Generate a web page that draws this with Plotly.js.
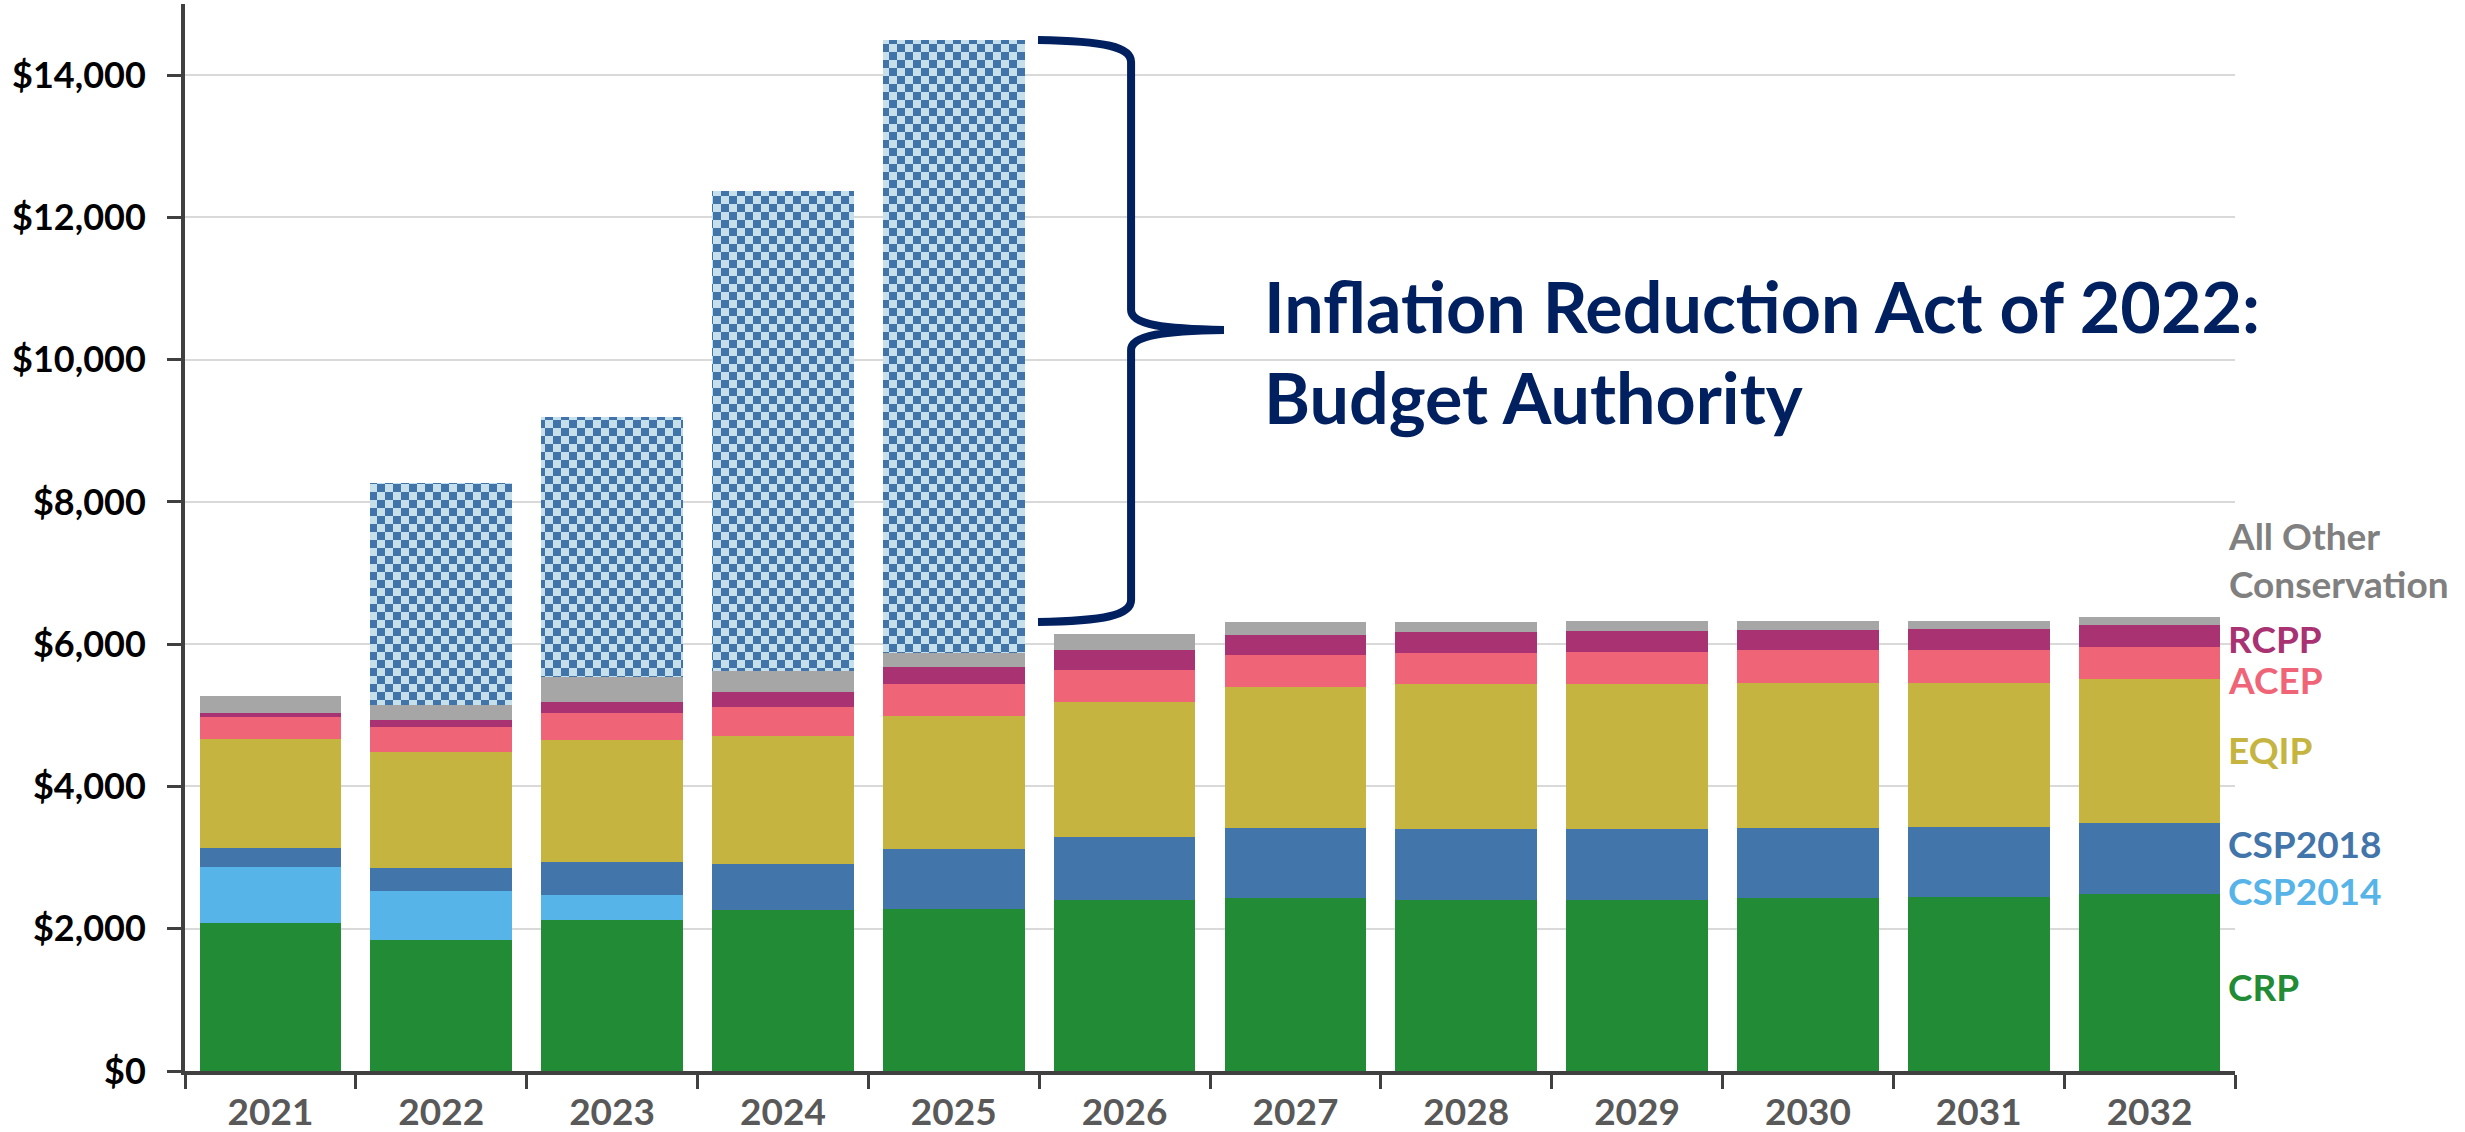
<!DOCTYPE html>
<html>
<head>
<meta charset="utf-8">
<script src="https://cdn.plot.ly/plotly-3.0.1.min.js"></script>
<style>
html,body{margin:0;padding:0;background:#ffffff;}
#chart{width:2465px;height:1132px;}
</style>
</head>
<body>
<div id="chart"></div>
<script>
// ---- data ($ millions) ----
const years = ['2021','2022','2023','2024','2025','2026','2027','2028','2029','2030','2031','2032'];
const crp     = [2075, 1836, 2128, 2262, 2276, 2405, 2435, 2408, 2408, 2436, 2440, 2495];
const csp2014 = [ 795,  698,  352,    0,    0,    0,    0,    0,    0,    0,    0,    0];
const csp2018 = [ 265,  326,  464,  642,  839,  888,  977,  995,  995,  986,  990,  996];
const eqip    = [1530, 1630, 1712, 1804, 1871, 1892, 1992, 2031, 2034, 2035, 2030, 2020];
const acep    = [ 310,  346,  374,  410,  452,  451,  450,  449,  451,  455,  453,  453];
const rcpp    = [  60,  104,  162,  217,  248,  280,  282,  288,  295,  287,  294,  299];
const other   = [ 235,  212,  346,  286,  197,  225,  174,  141,  137,  125,  124,  125];
const ira     = [   0, 3118, 3662, 6753, 8609,    0,    0,    0,    0,    0,    0,    0];

const seriesNames  = ['CRP','CSP2014','CSP2018','EQIP','ACEP','RCPP','All Other Conservation','Inflation Reduction Act of 2022'];
const seriesValues = [crp, csp2014, csp2018, eqip, acep, rcpp, other, ira];
const seriesColors = ['#228B35','#56B4E9','#4275AA','#C6B441','#EF6477','#A83272','#A6A6A6','#C5E0EA'];
const labelColors  = ['#228B35','#56B4E9','#4275AA','#C6B441','#EF6477','#A83272','#808080'];
const yTickVals  = [0, 2000, 4000, 6000, 8000, 10000, 12000, 14000];
const yTickText  = ['$0','$2,000','$4,000','$6,000','$8,000','$10,000','$12,000','$14,000'];

// ---- layout geometry ----
const W = 2465, H = 1132;
const M = {l:185, r:230, t:4, b:61};
const PW = W - M.l - M.r, PH = H - M.t - M.b;
const px = x => ((x - M.l) / PW).toFixed(4);
const py = y => ((H - M.b - y) / PH).toFixed(4);
const FONT = "Lato, 'Open Sans', sans-serif";

const traces = seriesNames.map((name, i) => {
  const t = {
    type: 'bar',
    name: name,
    x: years,
    y: seriesValues[i],
    marker: {color: seriesColors[i], line: {width: 0}},
    hoverinfo: 'x+y+name'
  };
  if (i === seriesNames.length - 1) {
    t.marker.pattern = {shape: '+', fgcolor: '#4175AA', bgcolor: '#C5E0EA', size: 16, solidity: 0.5, fillmode: 'replace'};
  }
  return t;
});

const bracePath =
  `M ${px(1038)},${py(40)} C ${px(1105)},${py(41)} ${px(1131)},${py(47)} ${px(1131)},${py(62)} ` +
  `L ${px(1131)},${py(310)} C ${px(1131)},${py(325)} ${px(1165)},${py(329)} ${px(1224)},${py(330)} ` +
  `C ${px(1165)},${py(331)} ${px(1131)},${py(335)} ${px(1131)},${py(350)} ` +
  `L ${px(1131)},${py(600)} C ${px(1131)},${py(615)} ${px(1105)},${py(621)} ${px(1038)},${py(622)}`;

const sideLabel = (text, yv, color) => ({
  xref: 'paper', yref: 'y', x: 0.9956, y: yv, xanchor: 'left', yanchor: 'middle',
  text: text, showarrow: false, align: 'left',
  font: {family: FONT, size: 37, color: color, weight: 'bold'}
});

const layout = {
  width: W, height: H,
  margin: M,
  paper_bgcolor: '#ffffff', plot_bgcolor: '#ffffff',
  barmode: 'stack', bargap: 0.17,
  showlegend: false,
  font: {family: FONT, color: '#000000'},
  xaxis: {
    type: 'category',
    showline: true, linecolor: '#404040', linewidth: 4,
    ticks: 'outside', tickson: 'boundaries', ticklen: 14, tickwidth: 3, tickcolor: '#404040',
    tickfont: {family: FONT, size: 37, color: '#595959', weight: 'bold'},
    ticklabelstandoff: 6,
    showgrid: false, zeroline: false, fixedrange: true
  },
  yaxis: {
    range: [0, 15000],
    tickvals: yTickVals,
    ticktext: yTickText,
    showline: true, linecolor: '#404040', linewidth: 4,
    ticks: 'outside', ticklen: 14, tickwidth: 3, tickcolor: '#404040',
    tickfont: {family: FONT, size: 36, color: '#000000', weight: 'bold'},
    ticklabelstandoff: 14,
    showgrid: true, gridcolor: '#D9D9D9', gridwidth: 2,
    zeroline: false, fixedrange: true
  },
  shapes: [{
    type: 'path', xref: 'paper', yref: 'paper', path: bracePath,
    line: {color: '#002060', width: 8}, fillcolor: 'rgba(0,0,0,0)'
  }],
  annotations: [
    {
      xref: 'paper', yref: 'paper', x: px(1262), y: py(352), xanchor: 'left', yanchor: 'middle',
      text: 'Inflation Reduction Act of 2022:<br>Budget Authority', showarrow: false, align: 'left',
      font: {family: FONT, size: 70, color: '#002060', weight: 'bold'}
    },
    sideLabel('All Other<br>Conservation', 7190, labelColors[6]),
    sideLabel('RCPP', 6076, labelColors[5]),
    sideLabel('ACEP', 5499, labelColors[4]),
    sideLabel('EQIP', 4515, labelColors[3]),
    sideLabel('CSP2018', 3193, labelColors[2]),
    sideLabel('CSP2014', 2532, labelColors[1]),
    sideLabel('CRP', 1181, labelColors[0])
  ]
};

function checker() {
  // turn the IRA fill tile into a checkerboard like the original
  document.querySelectorAll('#chart defs pattern').forEach(p => {
    const ns = 'http://www.w3.org/2000/svg';
    while (p.firstChild) p.removeChild(p.firstChild);
    p.setAttribute('width', 16); p.setAttribute('height', 16);
    p.setAttribute('patternUnits', 'userSpaceOnUse');
    const mk = (x, y, w, h, c) => {
      const r = document.createElementNS(ns, 'rect');
      r.setAttribute('x', x); r.setAttribute('y', y);
      r.setAttribute('width', w); r.setAttribute('height', h);
      r.setAttribute('fill', c);
      p.appendChild(r);
    };
    mk(0, 0, 16, 16, '#C5E0EA');
    mk(0, 0, 8, 8, '#4175AA');
    mk(8, 8, 8, 8, '#4175AA');
  });
}

Plotly.newPlot('chart', traces, layout, {displayModeBar: false, staticPlot: true}).then(checker);
</script>
</body>
</html>
